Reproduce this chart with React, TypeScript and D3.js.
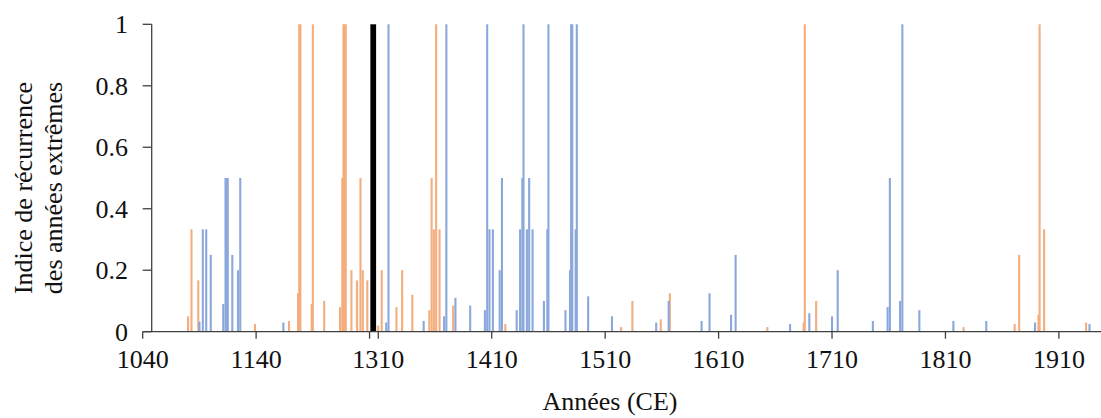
import React from "react";
import * as d3 from "d3";

const orangeYears = [1080, 1083, 1089, 1139, 1169, 1177, 1178, 1179, 1189, 1190, 1200, 1214, 1216, 1217, 1218, 1219, 1224, 1229, 1232, 1234, 1238, 1309, 1313, 1326, 1331, 1340, 1355, 1357, 1359, 1361, 1364, 1376, 1422, 1524, 1534, 1559, 1567, 1653, 1685, 1686, 1696, 1826, 1871, 1875, 1892, 1893, 1897, 1934];
const orangeValues = [0.05, 0.333, 0.167, 0.025, 0.035, 0.125, 1, 1, 0.09, 1, 0.1, 0.08, 0.5, 1, 1, 1, 0.2, 0.167, 0.5, 0.2, 0.167, 0.02, 0.2, 0.08, 0.2, 0.12, 0.07, 0.5, 0.333, 1, 0.333, 0.085, 0.025, 0.015, 0.1, 0.04, 0.125, 0.015, 0.03, 1, 0.1, 0.015, 0.025, 0.25, 0.055, 1, 0.333, 0.03];

const blueYears = [1090, 1093, 1096, 1100, 1111, 1113, 1114, 1115, 1119, 1124, 1126, 1164, 1317, 1319, 1350, 1368, 1370, 1378, 1391, 1404, 1406, 1408, 1411, 1417, 1419, 1432, 1435, 1437, 1438, 1441, 1443, 1446, 1456, 1459, 1460, 1475, 1479, 1480, 1481, 1484, 1485, 1495, 1516, 1555, 1566, 1595, 1602, 1621, 1625, 1673, 1690, 1710, 1715, 1746, 1759, 1761, 1770, 1772, 1787, 1817, 1846, 1889, 1937];
const blueValues = [0.033, 0.333, 0.333, 0.25, 0.09, 0.5, 0.5, 0.5, 0.25, 0.2, 0.5, 0.03, 0.03, 1, 0.035, 0.05, 1, 0.11, 0.085, 0.07, 1, 0.333, 0.333, 0.2, 0.5, 0.07, 0.333, 0.5, 1, 0.333, 0.5, 0.333, 0.1, 0.333, 1, 0.07, 0.2, 1, 1, 0.333, 1, 0.115, 0.05, 0.03, 0.1, 0.035, 0.125, 0.055, 0.25, 0.025, 0.06, 0.05, 0.2, 0.035, 0.08, 0.5, 0.1, 1, 0.07, 0.035, 0.035, 0.03, 0.025];

// discontinuity in the record, marked by a black bar
const gapStart = 1240;
const gapEnd = 1310;
const gapMarkerValue = 1;

const xTickValues = [1040, 1140, 1240, 1310, 1410, 1510, 1610, 1710, 1810, 1910];
const xTickLabels = ["1040", "1140", "", "1310", "1410", "1510", "1610", "1710", "1810", "1910"];
const yTickValues = [0, 0.2, 0.4, 0.6, 0.8, 1];
const yTickLabels = ["0", "0.2", "0.4", "0.6", "0.8", "1"];

const W = 1101;
const H = 418;
const k = 1.1343;
const x0 = 142.7;
const xStart = 1040;
const xEnd = 1950;
const xRightStart = 378.3;

const x = d3
  .scaleLinear()
  .domain([xStart, gapStart, gapEnd, xEnd])
  .range([x0, x0 + (gapStart - xStart) * k, xRightStart, xRightStart + (xEnd - gapEnd) * k]);
const y = d3.scaleLinear().domain([0, 1]).range([331.7, 24.3]);

const ORANGE = "#F4AD7D";
const BLUE = "#8BA8DC";
const FONT = "'Liberation Serif', 'Times New Roman', serif";
const barW = 2.1;
const yAxisX = 151.7;

export default function App() {
  const y0 = y(0);
  return (
    <svg width={W} height={H} style={{ position: "absolute", left: 0, top: 0, background: "#fff" }} fontFamily={FONT}>
      <rect x={0} y={0} width={W} height={H} fill="#fff" />
      {orangeYears.map((yr, i) => (
        <rect key={"o" + i} x={x(yr) - barW / 2} y={y(orangeValues[i])} width={barW} height={y0 - y(orangeValues[i])} fill={ORANGE} />
      ))}
      {blueYears.map((yr, i) => (
        <rect key={"b" + i} x={x(yr) - barW / 2} y={y(blueValues[i])} width={barW} height={y0 - y(blueValues[i])} fill={BLUE} />
      ))}
      <rect x={x(gapStart) + 0.8} y={y(gapMarkerValue)} width={x(gapEnd) - x(gapStart) - 3} height={y0 - y(gapMarkerValue)} fill="#000" />
      {/* x axis */}
      <line x1={x0} x2={W} y1={y0} y2={y0} stroke="#404040" strokeWidth={1.3} />
      {xTickValues.map((t, i) => (
        <g key={"xt" + i}>
          <line x1={x(t)} x2={x(t)} y1={y0} y2={y0 + 7} stroke="#404040" strokeWidth={1.3} />
          {xTickLabels[i] && (
            <text x={x(t)} y={368} textAnchor="middle" fontSize={26} fill="#111">
              {xTickLabels[i]}
            </text>
          )}
        </g>
      ))}
      {/* y axis */}
      <line x1={yAxisX} x2={yAxisX} y1={y(1)} y2={y0} stroke="#404040" strokeWidth={1.3} />
      {yTickValues.map((t, i) => (
        <g key={"yt" + i}>
          <line x1={x0} x2={yAxisX} y1={y(t)} y2={y(t)} stroke="#404040" strokeWidth={1.3} />
          <text x={128} y={y(t)} dy="0.35em" textAnchor="end" fontSize={26} fill="#111">
            {yTickLabels[i]}
          </text>
        </g>
      ))}
      <g transform="translate(31.5,188) rotate(-90)">
        <text x={0} y={0} textAnchor="middle" fontSize={26} fill="#111">Indice de récurrence</text>
      </g>
      <g transform="translate(62,188) rotate(-90)">
        <text x={0} y={0} textAnchor="middle" fontSize={26} fill="#111">des années extrêmes</text>
      </g>
      <text x={610} y={410} textAnchor="middle" fontSize={26} fill="#111">Années (CE)</text>
    </svg>
  );
}
